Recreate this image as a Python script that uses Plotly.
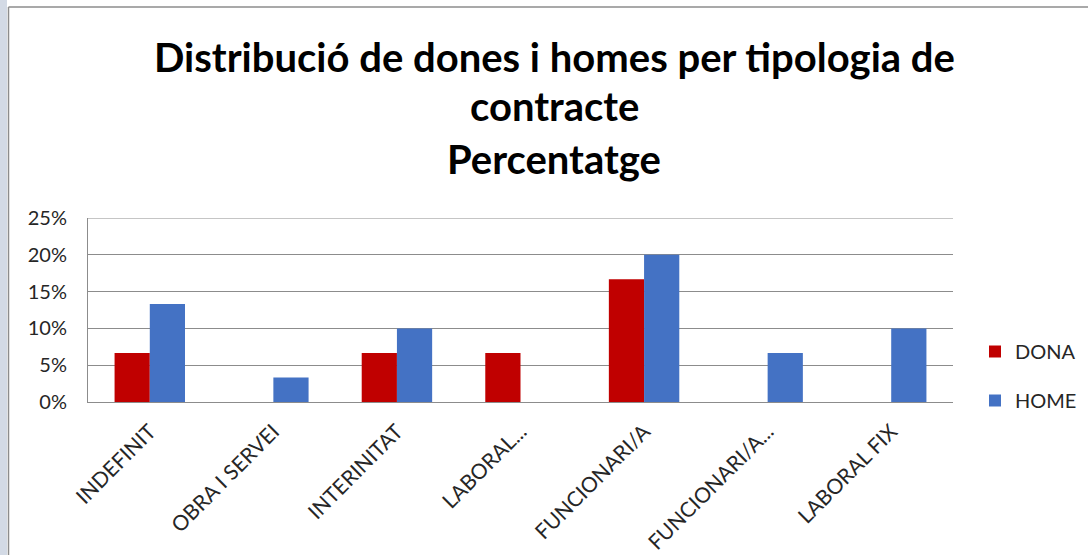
import plotly.graph_objects as go

# categories and series (percentages)
categories = ["INDEFINIT", "OBRA I SERVEI", "INTERINITAT", "LABORAL...",
              "FUNCIONARI/A", "FUNCIONARI/A...", "LABORAL FIX"]
dona = [6.67, 0, 6.67, 6.67, 16.67, 0, 0]
home = [13.33, 3.33, 10.0, 0, 20.0, 6.67, 10.0]
y_ticks = [0, 5, 10, 15, 20, 25]
y_labels = ["0%", "5%", "10%", "15%", "20%", "25%"]
title_lines = ["Distribució de dones i homes per tipologia de", "contracte", "Percentatge"]

FONT = "Lato"
TXT = "#262626"
GRID = "#8c8c8c"

# plot area in pixels (used for the decorations outside the axes)
L, R, T, B = 88, 135, 218, 153
W, H = 1088, 555
pw, ph = W - L - R, H - T - B


def px_x(p):
    return (p - L) / pw


def px_y(p):
    return (H - B - p) / ph


fig = go.Figure()
fig.add_trace(go.Bar(x=categories, y=dona, name="DONA", marker_color="#C00000",
                     marker_line_width=0, legendgroup="a"))
fig.add_trace(go.Bar(x=categories, y=home, name="HOME", marker_color="#4472C4",
                     marker_line_width=0, legendgroup="b"))

# title, one annotation per line
for line, ypx in zip(title_lines, [57, 106, 159]):
    fig.add_annotation(text="<b>%s</b>" % line, x=px_x(554), y=px_y(ypx),
                       xref="paper", yref="paper", showarrow=False,
                       xanchor="center", yanchor="middle",
                       font=dict(family=FONT, size=40, color="#000000"))

# chart frame (left + top edges visible) and the pale watermark strip
fig.add_shape(type="rect", xref="paper", yref="paper",
              x0=px_x(0), x1=px_x(7), y0=px_y(555), y1=px_y(0),
              fillcolor="#d3dae5", line_width=0, layer="below")
fig.add_shape(type="line", xref="paper", yref="paper",
              x0=px_x(8.5), x1=px_x(8.5), y0=px_y(7), y1=px_y(555),
              line=dict(color=GRID, width=1.5))
fig.add_shape(type="line", xref="paper", yref="paper",
              x0=px_x(8.5), x1=px_x(1088), y0=px_y(7), y1=px_y(7),
              line=dict(color=GRID, width=1.5))

fig.update_layout(
    width=W, height=H,
    margin=dict(l=L, r=R, t=T, b=B, autoexpand=False),
    paper_bgcolor="white", plot_bgcolor="white",
    barmode="group", bargap=0.43, bargroupgap=0,
    font=dict(family=FONT, color=TXT),
    showlegend=True,
    legend=dict(x=px_x(975), y=px_y(376), xanchor="left", yanchor="middle",
                font=dict(family=FONT, size=20, color=TXT),
                tracegroupgap=20, itemwidth=30),
)
fig.update_xaxes(showline=True, linecolor=GRID, linewidth=1,
                 tickangle=-45, tickfont=dict(size=21, color=TXT),
                 ticks="", showgrid=False, ticklabelstandoff=8)
fig.update_yaxes(range=[0, 25], tickvals=y_ticks, ticktext=y_labels,
                 showline=True, linecolor=GRID, linewidth=1,
                 gridcolor=GRID, gridwidth=1, zeroline=False,
                 tickfont=dict(size=20, color=TXT), ticklabelstandoff=16)
# top gridline at 25% acts as the plot frame top
fig.add_shape(type="line", xref="paper", yref="y", x0=0, x1=1, y0=25, y1=25,
              line=dict(color=GRID, width=1))

fig.write_html("out.html", config={"displayModeBar": False},
               post_script="document.body.style.margin='0';"
                           "document.body.style.overflow='hidden';")
